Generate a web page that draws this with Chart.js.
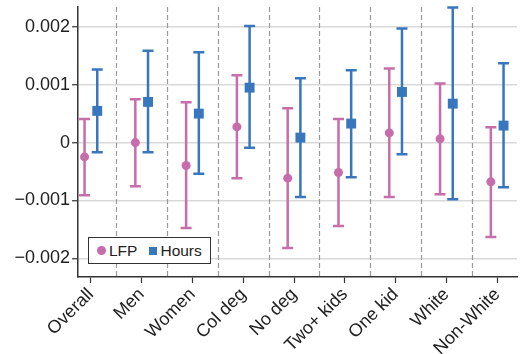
<!DOCTYPE html>
<html>
<head>
<meta charset="utf-8">
<script src="https://cdn.jsdelivr.net/npm/chart.js@4.4.1/dist/chart.umd.min.js"></script>
<style>
    body { margin: 0; background: #fff; }
    #wrap { position: relative; width: 524px; height: 354px; }
    .legend {
        position: absolute; left: 88px; top: 237px; width: 121px; height: 25px;
        border: 1.5px solid #333; background: #fff; display: flex; align-items: center;
        font: 15.5px "Liberation Sans", Arial, sans-serif; color: #222;
    }
    .legend .dot { width: 9px; height: 9px; border-radius: 50%; background: #c86dab; margin-left: 8px; }
    .legend .sq { width: 8px; height: 8px; background: #3876bd; margin-left: 12px; }
    .legend span.txt { margin-left: 3px; }
</style>
</head>
<body>
<div id="wrap">
    <canvas id="chart" width="524" height="354"></canvas>
    <div class="legend">
        <div class="dot"></div><span class="txt">LFP</span>
        <div class="sq"></div><span class="txt">Hours</span>
    </div>
</div>
<script>
const categories = ['Overall', 'Men', 'Women', 'Col deg', 'No deg', 'Two+ kids', 'One kid', 'White', 'Non-White'];

const lfpEst   = [-0.000247, 0.0,      -0.000396, 0.000271, -0.000614, -0.000517, 0.000167, 0.000064, -0.000678];
const lfpLow   = [-0.000907, -0.000752, -0.001476, -0.000614, -0.00182, -0.00144, -0.000941, -0.00089, -0.00163];
const lfpHigh  = [0.000409, 0.000748, 0.000696, 0.00116, 0.000593, 0.000409, 0.00128, 0.00102, 0.000266];

const hoursEst  = [0.000547, 0.000702, 0.0005, 0.000948, 0.000086, 0.000328, 0.000874, 0.000672, 0.000293];
const hoursLow  = [-0.000166, -0.000166, -0.00054, -0.000091, -0.000941, -0.000597, -0.0002, -0.000976, -0.000769];
const hoursHigh = [0.00126, 0.001586, 0.00156, 0.00201, 0.00111, 0.00125, 0.00197, 0.00233, 0.00137];

const yTicks = [-0.002, -0.001, 0, 0.001, 0.002];

const PINK = '#c86dab';
const BLUE = '#3876bd';
const SHIFT = 0.125;
const FONT = '"Liberation Sans", Arial, sans-serif';

const bars = [
    { low: lfpLow, high: lfpHigh, color: PINK, shift: -SHIFT },
    { low: hoursLow, high: hoursHigh, color: BLUE, shift: SHIFT }
];

// dashed separators + error bars, drawn under the markers
const errorBars = {
    id: 'errorBars',
    beforeDatasetsDraw(chart) {
        const { ctx, chartArea, scales: { x, y } } = chart;
        ctx.save();
        ctx.strokeStyle = '#999';
        ctx.lineWidth = 1.2;
        ctx.setLineDash([5, 3]);
        for (let i = 0; i < categories.length - 1; i++) {
            const px = Math.round(x.getPixelForValue(i + 0.5)) + 0.5;
            ctx.beginPath();
            ctx.moveTo(px, chartArea.top);
            ctx.lineTo(px, chartArea.bottom);
            ctx.stroke();
        }
        ctx.setLineDash([]);
        ctx.lineWidth = 2.5;
        bars.forEach(b => {
            ctx.strokeStyle = b.color;
            categories.forEach((c, i) => {
                const px = x.getPixelForValue(i + b.shift);
                const top = y.getPixelForValue(b.high[i]);
                const bot = y.getPixelForValue(b.low[i]);
                ctx.beginPath();
                ctx.moveTo(px, top);
                ctx.lineTo(px, bot);
                ctx.moveTo(px - 5.5, top);
                ctx.lineTo(px + 5.5, top);
                ctx.moveTo(px - 5.5, bot);
                ctx.lineTo(px + 5.5, bot);
                ctx.stroke();
            });
        });
        ctx.restore();
    }
};

new Chart(document.getElementById('chart'), {
    type: 'scatter',
    data: {
        datasets: [
            {
                label: 'LFP',
                data: categories.map((c, i) => ({ x: i - SHIFT, y: lfpEst[i] })),
                pointStyle: 'circle',
                pointRadius: 4.5,
                backgroundColor: PINK,
                borderWidth: 0
            },
            {
                label: 'Hours',
                data: categories.map((c, i) => ({ x: i + SHIFT, y: hoursEst[i] })),
                pointStyle: 'rect',
                pointRadius: 7,
                backgroundColor: BLUE,
                borderWidth: 0
            }
        ]
    },
    options: {
        responsive: false,
        animation: false,
        devicePixelRatio: 1,
        layout: { padding: { top: 7, right: 4, left: 0, bottom: 0 } },
        plugins: { legend: { display: false }, tooltip: { enabled: false } },
        scales: {
            x: {
                type: 'linear',
                min: -0.254,
                max: 8.39,
                afterBuildTicks: s => { s.ticks = categories.map((c, i) => ({ value: i })); },
                afterFit: s => { s.height = 77; s.paddingLeft = 0; s.paddingRight = 0; },
                ticks: {
                    callback: v => categories[v],
                    minRotation: 45,
                    maxRotation: 45,
                    autoSkip: false,
                    padding: 1,
                    color: '#222',
                    font: { family: FONT, size: 18 }
                },
                grid: { drawOnChartArea: false, drawTicks: true, tickLength: 6, tickColor: '#333', tickWidth: 1.2 },
                border: { display: true, color: '#333', width: 1.5 }
            },
            y: {
                min: -0.00232,
                max: 0.00234,
                afterBuildTicks: s => { s.ticks = yTicks.map(v => ({ value: v })); },
                afterFit: s => { s.width = 78; s.paddingTop = 0; s.paddingBottom = 0; },
                ticks: {
                    callback: v => v === 0 ? '0' : (v < 0 ? '\u2212' : '') + Math.abs(v).toFixed(3),
                    padding: 2,
                    color: '#222',
                    font: { family: FONT, size: 18 }
                },
                grid: { color: '#d9d9d9', lineWidth: 1.5, tickLength: 6, tickColor: '#333', tickWidth: 1.2 },
                border: { display: true, color: '#333', width: 1.5 }
            }
        }
    },
    plugins: [errorBars]
});
</script>
</body>
</html>
